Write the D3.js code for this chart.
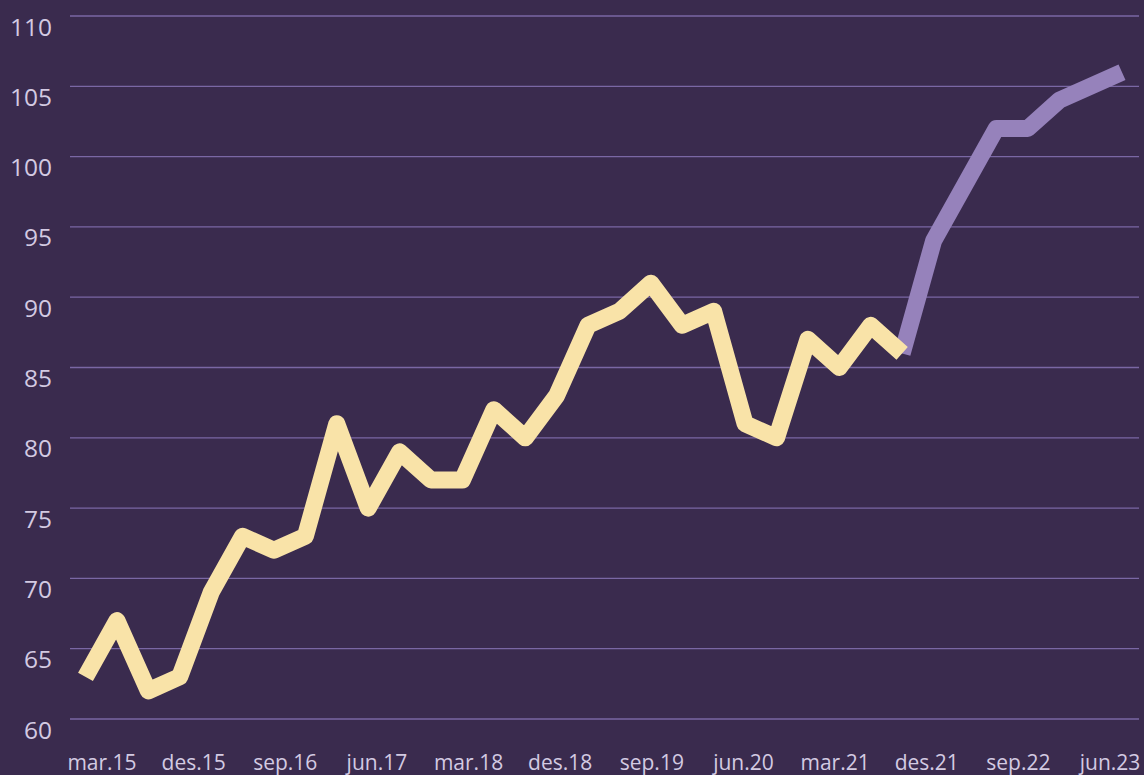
<!DOCTYPE html>
<html>
<head>
<meta charset="utf-8">
<script src="https://cdn.jsdelivr.net/npm/d3@7"></script>
<style>
  html, body { margin: 0; padding: 0; background: #3a2b4e; }
  svg { display: block; font-family: "Open Sans", sans-serif; }
</style>
</head>
<body>
<script>
// quarters from mar.15 to jun.23
const quarters = [
  "mar.15", "jun.15", "sep.15", "des.15",
  "mar.16", "jun.16", "sep.16", "des.16",
  "mar.17", "jun.17", "sep.17", "des.17",
  "mar.18", "jun.18", "sep.18", "des.18",
  "mar.19", "jun.19", "sep.19", "des.19",
  "mar.20", "jun.20", "sep.20", "des.20",
  "mar.21", "jun.21", "sep.21", "des.21",
  "mar.22", "jun.22", "sep.22", "des.22",
  "mar.23", "jun.23"
]

// observed values mar.15 - sep.21
const observed = [63, 67, 62, 63, 69, 73, 72, 73, 81, 75, 79, 77, 77, 82, 80, 83,
  88, 89, 91, 88, 89, 81, 80, 87, 85, 88, 86]

// projection sep.21 - jun.23 (starts at last observed point)
const projected = [86, 94, 98, 102, 102, 104, 105, 106]

const tickLabels = ["mar.15", "des.15", "sep.16", "jun.17", "mar.18", "des.18",
  "sep.19", "jun.20", "mar.21", "des.21", "sep.22", "jun.23"]

const yTicks = [60, 65, 70, 75, 80, 85, 90, 95, 100, 105, 110]

const m = { width: 1144, height: 775 }

const svg = d3.select("body").append("svg")
    .attr("width", m.width)
    .attr("height", m.height)

svg.append("rect")
    .attr("width", m.width)
    .attr("height", m.height)
    .attr("fill", "#3a2b4e")

const x = d3.scalePoint()
    .domain(quarters)
    .range([85.5, 1122])

// labels sit on their own slightly narrower spacing
const xLabel = d3.scalePoint()
    .domain(tickLabels)
    .range([102, 1110])

const y = d3.scaleLinear()
    .domain([60, 110])
    .range([719, 16])

// grid lines
svg.append("g")
    .selectAll("line")
    .data(yTicks)
    .enter()
    .append("line")
        .attr("x1", 70)
        .attr("x2", 1139)
        .attr("y1", d => y(d))
        .attr("y2", d => y(d))
        .attr("stroke", "#7a67a4")
        .attr("stroke-width", 1.3)

// y labels, just below each grid line
svg.append("g")
    .selectAll("text")
    .data(yTicks)
    .enter()
    .append("text")
        .attr("x", 52)
        .attr("y", d => y(d) + 19.5)
        .attr("text-anchor", "end")
        .attr("font-size", 24.5)
        .attr("fill", "#d3cae2")
        .text(d => d)

// x labels
svg.append("g")
    .selectAll("text")
    .data(tickLabels)
    .enter()
    .append("text")
        .attr("x", d => xLabel(d))
        .attr("y", 770)
        .attr("text-anchor", "middle")
        .attr("font-size", 21)
        .attr("fill", "#d3cae2")
        .text(d => d)

const line = d3.line()
    .x(d => x(d.q))
    .y(d => y(d.v))

const obsData = observed.map((v, i) => ({ q: quarters[i], v: v }))
const projData = projected.map((v, i) => ({ q: quarters[observed.length - 1 + i], v: v }))

svg.append("path")
    .datum(projData)
    .attr("d", line)
    .attr("fill", "none")
    .attr("stroke", "#9682bb")
    .attr("stroke-width", 17)
    .attr("stroke-linejoin", "round")
    .attr("stroke-linecap", "butt")

svg.append("path")
    .datum(obsData)
    .attr("d", line)
    .attr("fill", "none")
    .attr("stroke", "#f9e3a8")
    .attr("stroke-width", 17)
    .attr("stroke-linejoin", "round")
    .attr("stroke-linecap", "butt")
</script>
</body>
</html>
